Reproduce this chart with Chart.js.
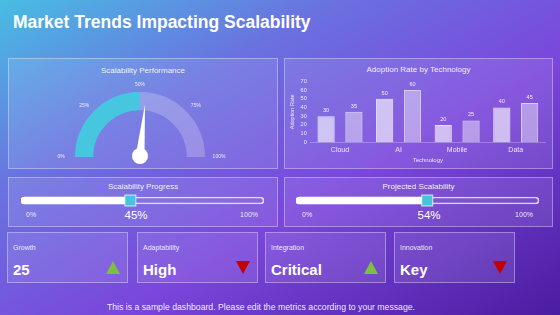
<!DOCTYPE html>
<html>
<head>
<meta charset="utf-8">
<script src="https://cdn.jsdelivr.net/npm/chart.js@4"></script>
<style>
  html, body { margin: 0; padding: 0; }
  body {
    width: 560px; height: 315px; overflow: hidden; position: relative;
    font-family: "Liberation Sans", Arial, sans-serif; color: #fff;
    background: linear-gradient(150deg, #48bde3 0%, #6a72e0 30%, #7a46dc 60%, #4a1ca0 100%);
  }
  .abs { position: absolute; }
  h1 { position: absolute; left: 13px; top: 12px; margin: 0; font-size: 17.5px; font-weight: bold; }
  .panel { position: absolute; background: rgba(255,255,255,0.1); border: 1px solid rgba(255,255,255,0.35); box-sizing: border-box; }
  .ptitle { position: absolute; left: 0; right: 0; text-align: center; font-size: 8px; color: rgba(255,255,255,0.92); }
  .plab { position: absolute; font-size: 7px; color: rgba(255,255,255,0.9); }
  .pval { position: absolute; font-size: 11.5px; color: #fff; transform: translateX(-50%); }
  .card .lab { position: absolute; left: 5px; top: 11px; font-size: 7px; color: rgba(255,255,255,0.9); }
  .card .val { position: absolute; left: 5px; top: 28px; font-size: 15px; font-weight: bold; }
  .tri { position: absolute; right: 7px; top: 28px; width: 0; height: 0; border-left: 7px solid transparent; border-right: 7px solid transparent; }
  .up { border-bottom: 13px solid #7cbf42; }
  .down { border-top: 13px solid #c40000; }
  .foot { position: absolute; left: 0; width: 522px; top: 302px; text-align: center; font-size: 8.7px; color: rgba(255,255,255,0.92); }
</style>
</head>
<body>
<h1>Market Trends Impacting Scalability</h1>

<div class="panel" style="left:8px;top:58px;width:270px;height:111px;">
  <div class="ptitle" style="top:7px;">Scalability Performance</div>
</div>
<canvas id="gauge" class="abs" width="269" height="95" style="left:8px;top:72px;"></canvas>

<div class="panel" style="left:284px;top:58px;width:269px;height:111px;">
  <div class="ptitle" style="top:6px;">Adoption Rate by Technology</div>
</div>
<canvas id="bars" class="abs" width="266" height="90" style="left:285px;top:74px;"></canvas>

<div class="panel" style="left:8px;top:177px;width:270px;height:50px;">
  <div class="ptitle" style="top:4px;">Scalability Progress</div>
  <div class="plab" style="left:17px;top:33px;">0%</div>
  <div class="plab" style="right:19px;top:33px;">100%</div>
  <div class="pval" id="pv1" style="left:127px;top:31px;"></div>
</div>
<canvas id="prog1" class="abs" width="259" height="19" style="left:13px;top:191px;"></canvas>

<div class="panel" style="left:284px;top:177px;width:269px;height:50px;">
  <div class="ptitle" style="top:4px;">Projected Scalability</div>
  <div class="plab" style="left:17px;top:33px;">0%</div>
  <div class="plab" style="right:19px;top:33px;">100%</div>
  <div class="pval" id="pv2" style="left:144px;top:31px;"></div>
</div>
<canvas id="prog2" class="abs" width="259" height="19" style="left:288px;top:191px;"></canvas>

<div id="cards"></div>
<div class="foot">This is a sample dashboard. Please edit the metrics according to your message.</div>

<script>
// gauge
const gaugeValues = [50, 50];
const gaugeNeedle = 53;
const gaugeTicks = [0, 25, 50, 75, 100];

// adoption bars
const techLabels = ['Cloud', 'AI', 'Mobile', 'Data'];
const adoptionA = [30, 50, 20, 40];
const adoptionB = [35, 60, 25, 45];

// progress
const progressValues = [45, 54];

// kpi cards
const cardLabels = ['Growth', 'Adaptability', 'Integration', 'Innovation'];
const cardValues = ['25', 'High', 'Critical', 'Key'];
const cardTrends = ['up', 'down', 'up', 'down'];

const font = '"Liberation Sans", Arial, sans-serif';
Chart.defaults.font.family = font;
Chart.defaults.color = 'rgba(255,255,255,0.85)';

// gauge: tick labels + needle
const gaugeExtras = {
  id: 'gaugeExtras',
  afterDatasetsDraw(chart) {
    const arc = chart.getDatasetMeta(0).data[0];
    const cx = arc.x, cy = arc.y, r = arc.outerRadius;
    const ctx = chart.ctx;
    ctx.save();
    ctx.fillStyle = 'rgba(255,255,255,0.85)';
    ctx.font = '5px ' + font;
    ctx.textAlign = 'center';
    ctx.textBaseline = 'middle';
    gaugeTicks.forEach(t => {
      const a = -Math.PI + t / 100 * Math.PI;
      ctx.fillText(t + '%', cx + Math.cos(a) * (r + 14), cy + Math.sin(a) * (r + 7));
    });
    const a = -Math.PI + gaugeNeedle / 100 * Math.PI;
    const len = r - 12;
    const px = Math.cos(a + Math.PI / 2), py = Math.sin(a + Math.PI / 2);
    ctx.fillStyle = '#fff';
    ctx.beginPath();
    ctx.moveTo(cx + px * 4.5, cy + py * 4.5);
    ctx.lineTo(cx + Math.cos(a) * len, cy + Math.sin(a) * len);
    ctx.lineTo(cx - px * 4.5, cy - py * 4.5);
    ctx.closePath();
    ctx.fill();
    ctx.beginPath();
    ctx.arc(cx, cy - 1, 8, 0, Math.PI * 2);
    ctx.fill();
    ctx.restore();
  }
};

new Chart(document.getElementById('gauge'), {
  type: 'doughnut',
  data: {
    datasets: [{
      data: gaugeValues,
      backgroundColor: ['#46c7df', 'rgba(255,255,255,0.22)'],
      borderWidth: 0
    }]
  },
  options: {
    responsive: false, animation: false,
    rotation: -90, circumference: 180, cutout: '72%',
    layout: { padding: { top: 20, bottom: 10, left: 0, right: 5 } },
    plugins: { legend: { display: false }, tooltip: { enabled: false } }
  },
  plugins: [gaugeExtras]
});

// bar value labels
const barValues = {
  id: 'barValues',
  afterDatasetsDraw(chart) {
    const ctx = chart.ctx;
    ctx.save();
    ctx.fillStyle = 'rgba(255,255,255,0.9)';
    ctx.font = '5.5px ' + font;
    ctx.textAlign = 'center';
    ctx.textBaseline = 'bottom';
    chart.data.datasets.forEach((ds, i) => {
      chart.getDatasetMeta(i).data.forEach((bar, j) => {
        ctx.fillText(ds.data[j], bar.x, bar.y - 3);
      });
    });
    ctx.restore();
  }
};

new Chart(document.getElementById('bars'), {
  type: 'bar',
  data: {
    labels: techLabels,
    datasets: [
      { data: adoptionA, backgroundColor: 'rgba(255,255,255,0.62)', borderColor: 'rgba(255,255,255,0.8)', borderWidth: 1 },
      { data: adoptionB, backgroundColor: 'rgba(255,255,255,0.42)', borderColor: 'rgba(255,255,255,0.7)', borderWidth: 1 }
    ]
  },
  options: {
    responsive: false, animation: false,
    layout: { padding: { top: 3, right: 6, left: 3, bottom: 0 } },
    categoryPercentage: 0.95, barPercentage: 0.62,
    scales: {
      x: {
        grid: { display: false, drawTicks: false },
        border: { color: 'rgba(255,255,255,0.25)' },
        ticks: { font: { size: 7 }, padding: 3 },
        title: { display: true, text: 'Technology', font: { size: 6 }, padding: 0 }
      },
      y: {
        min: 0, max: 70,
        ticks: { stepSize: 10, autoSkip: false, font: { size: 5.5 }, padding: 4 },
        grid: { display: false, drawTicks: false },
        border: { display: false },
        title: { display: true, text: 'Adoption Rate', font: { size: 5.5 }, padding: 1 }
      }
    },
    plugins: { legend: { display: false }, tooltip: { enabled: false } }
  },
  plugins: [barValues]
});

// progress bars
const progressHandle = {
  id: 'progressHandle',
  afterDatasetsDraw(chart) {
    const v = chart.data.datasets[0].data[0];
    const x = chart.scales.x.getPixelForValue(v);
    const y = chart.getDatasetMeta(0).data[0].y;
    const ctx = chart.ctx;
    ctx.save();
    ctx.fillStyle = '#46c6dd';
    ctx.strokeStyle = 'rgba(255,255,255,0.75)';
    ctx.lineWidth = 1;
    ctx.fillRect(x - 5.5, y - 5.5, 11, 11);
    ctx.strokeRect(x - 5.5, y - 5.5, 11, 11);
    ctx.restore();
  }
};

function progress(id, value) {
  new Chart(document.getElementById(id), {
    type: 'bar',
    data: {
      labels: [''],
      datasets: [
        { data: [value], backgroundColor: '#ffffff', borderWidth: 0, borderRadius: { topLeft: 4, bottomLeft: 4 }, borderSkipped: false, barThickness: 7 },
        { data: [100], backgroundColor: 'rgba(255,255,255,0.04)', borderColor: 'rgba(255,255,255,0.75)', borderWidth: 1, borderRadius: 4, borderSkipped: false, barThickness: 7 }
      ]
    },
    options: {
      indexAxis: 'y', responsive: false, animation: false,
      grouped: false,
      layout: { padding: { left: 8, right: 8, top: 0, bottom: 0 } },
      scales: { x: { min: 0, max: 100, display: false }, y: { display: false } },
      plugins: { legend: { display: false }, tooltip: { enabled: false } }
    },
    plugins: [progressHandle]
  });
}
progress('prog1', progressValues[0]);
progress('prog2', progressValues[1]);
document.getElementById('pv1').textContent = progressValues[0] + '%';
document.getElementById('pv2').textContent = progressValues[1] + '%';

// kpi cards
const cardLefts = [7, 137, 265, 394];
const cards = document.getElementById('cards');
cardLabels.forEach((lab, i) => {
  const d = document.createElement('div');
  d.className = 'panel card';
  d.style.cssText = 'left:' + cardLefts[i] + 'px;top:232px;width:121px;height:51px;';
  d.innerHTML = '<div class="lab">' + lab + '</div><div class="val">' + cardValues[i] + '</div><div class="tri ' + cardTrends[i] + '"></div>';
  cards.appendChild(d);
});
</script>
</body>
</html>
